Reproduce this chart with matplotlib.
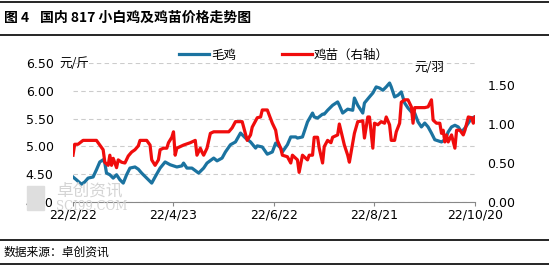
import matplotlib
matplotlib.use("Agg")
import matplotlib.pyplot as plt
from matplotlib.lines import Line2D
from matplotlib.patches import Rectangle
import pandas as pd

plt.rcParams['font.family'] = ['Noto Sans CJK SC', 'DejaVu Sans']

start = pd.Timestamp('2022-02-22')

# 毛鸡 (left axis, 元/斤) - days after 2022-02-22
blue_day = [0, 2, 5, 7, 9, 12, 14, 16, 18, 19,
            20, 22, 24, 26, 28, 30, 32, 34, 37, 39,
            41, 44, 47, 49, 52, 55, 58, 60, 62, 65,
            66, 68, 71, 75, 78, 80, 84, 86, 89, 91,
            94, 97, 100, 103, 106, 109, 110, 113, 116, 119,
            121, 124, 125, 128, 130, 133, 134, 137, 140, 143,
            144, 146, 149, 150, 152, 155, 158, 159, 161, 164,
            167, 168, 170, 173, 174, 177, 179, 181, 183, 185,
            187, 189, 190, 192, 194, 196, 198, 200, 202, 204,
            206, 208, 210, 212, 214, 216, 218, 220, 222, 224,
            226, 228, 230, 232, 234, 236, 238, 240]
blue_val = [4.45, 4.40, 4.32, 4.36, 4.43, 4.45, 4.58, 4.72, 4.76, 4.70,
            4.52, 4.49, 4.43, 4.49, 4.40, 4.34, 4.49, 4.61, 4.63, 4.59,
            4.52, 4.43, 4.34, 4.45, 4.61, 4.72, 4.67, 4.65, 4.63, 4.65,
            4.70, 4.61, 4.61, 4.52, 4.61, 4.70, 4.79, 4.74, 4.79, 4.90,
            5.03, 5.08, 5.24, 5.15, 5.08, 4.97, 5.01, 4.99, 4.86, 4.90,
            5.06, 4.97, 4.90, 5.03, 5.17, 5.17, 5.15, 5.17, 5.44, 5.60,
            5.53, 5.51, 5.58, 5.58, 5.65, 5.74, 5.80, 5.74, 5.60, 5.67,
            5.65, 5.87, 5.74, 5.60, 5.78, 5.89, 5.96, 6.07, 6.05, 6.01,
            6.07, 6.14, 6.07, 5.89, 5.92, 5.98, 5.78, 5.69, 5.62, 5.60,
            5.44, 5.35, 5.42, 5.35, 5.24, 5.12, 5.10, 5.08, 5.12, 5.26,
            5.35, 5.38, 5.35, 5.26, 5.33, 5.42, 5.51, 5.53]

# 鸡苗 (right axis, 元/羽)
red_day = [0, 1, 3, 6, 14, 16, 18, 19, 21, 22,
           23, 24, 26, 27, 29, 31, 33, 35, 37, 39,
           40, 44, 46, 47, 49, 51, 52, 54, 56, 57,
           59, 60, 61, 62, 66, 70, 73, 74, 76, 77,
           78, 80, 82, 84, 93, 95, 97, 101, 104, 106,
           107, 110, 112, 113, 116, 119, 121, 122, 124, 125,
           128, 130, 131, 134, 135, 137, 140, 141, 143, 144,
           146, 147, 149, 150, 152, 154, 155, 158, 159, 161,
           162, 164, 165, 167, 168, 170, 173, 174, 176, 177,
           179, 180, 182, 184, 186, 187, 189, 190, 192, 193,
           195, 196, 198, 200, 202, 203, 204, 210, 212, 214,
           215, 217, 219, 220, 221, 222, 223, 224, 226, 228,
           229, 231, 233, 234, 236, 238, 239, 240]
red_val = [0.60, 0.74, 0.74, 0.79, 0.79, 0.73, 0.67, 0.51, 0.47, 0.60,
           0.47, 0.56, 0.44, 0.54, 0.51, 0.50, 0.59, 0.64, 0.67, 0.72,
           0.79, 0.79, 0.73, 0.54, 0.47, 0.54, 0.67, 0.69, 0.69, 0.76,
           0.83, 0.90, 0.60, 0.69, 0.73, 0.76, 0.79, 0.60, 0.69, 0.64,
           0.60, 0.69, 0.88, 0.90, 0.90, 0.95, 1.03, 1.03, 0.79, 0.86,
           0.96, 1.08, 1.09, 1.18, 1.18, 1.01, 0.92, 0.79, 0.69, 0.60,
           0.58, 0.50, 0.60, 0.54, 0.38, 0.60, 0.54, 0.60, 0.60, 0.83,
           0.83, 0.69, 0.50, 0.71, 0.79, 0.76, 0.83, 0.86, 1.00, 0.82,
           0.73, 0.60, 0.51, 0.76, 0.88, 1.03, 1.04, 0.82, 1.09, 1.09,
           0.69, 1.01, 0.99, 1.03, 1.01, 1.09, 0.99, 0.79, 0.79, 0.90,
           1.01, 1.28, 1.31, 1.31, 1.22, 1.01, 1.21, 1.21, 1.22, 1.31,
           1.05, 1.01, 1.01, 0.88, 0.92, 0.77, 0.86, 0.77, 0.86, 0.69,
           0.92, 0.92, 0.86, 0.92, 1.09, 1.08, 1.01, 1.09]

x_ticks = ['2022-02-22', '2022-04-23', '2022-06-22', '2022-08-21', '2022-10-20']
x_labels = ['22/2/22', '22/4/23', '22/6/22', '22/8/21', '22/10/20']
left_ticks = [4.0, 4.5, 5.0, 5.5, 6.0, 6.5]
left_labels = ['4.00', '4.50', '5.00', '5.50', '6.00', '6.50']
right_ticks = [0.0, 0.5, 1.0, 1.5]
right_labels = ['0.00', '0.50', '1.00', '1.50']

BLUE = '#1b73a0'
RED = '#f00c0c'
W, H = 549, 270

fig = plt.figure(figsize=(W / 100, H / 100), dpi=100)
ax = fig.add_axes([73 / W, 1 - 202 / H, (475 - 73) / W, (202 - 63) / H])
ax2 = ax.twinx()

blue_dates = start + pd.to_timedelta(blue_day, unit='D')
red_dates = start + pd.to_timedelta(red_day, unit='D')

l1, = ax.plot(blue_dates, blue_val, color=BLUE, lw=2.3, solid_joinstyle='round')
l2, = ax2.plot(red_dates, red_val, color=RED, lw=2.3, solid_joinstyle='round')

ax.set_xlim(pd.Timestamp(x_ticks[0]), pd.Timestamp(x_ticks[-1]))
ax.set_ylim(4.0, 6.5)
ax2.set_ylim(0, 1.782)

ax.set_yticks(left_ticks)
ax.set_yticklabels(left_labels, fontsize=9, family='DejaVu Sans')
ax2.set_yticks(right_ticks)
ax2.set_yticklabels(right_labels, fontsize=9, family='DejaVu Sans')
ax.set_xticks(pd.to_datetime(x_ticks))
ax.set_xticklabels(x_labels, fontsize=9, family='DejaVu Sans')

ax.tick_params(axis='y', length=0, pad=14)
ax2.tick_params(axis='y', length=0, pad=9)
ax.tick_params(axis='x', length=3, color='#888888', pad=2)

ax.grid(axis='y', ls=(0, (4, 3)), color='#cccccc', lw=0.8)
for a in (ax, ax2):
    for s in ('top', 'right', 'left'):
        a.spines[s].set_visible(False)
ax2.spines['bottom'].set_visible(False)
ax.spines['bottom'].set_color('#888888')

# units
fig.text(59 / W, 1 - 63 / H, '元/斤', fontsize=9, va='center', ha='left')
fig.text(429 / W, 1 - 68 / H, '元/羽', fontsize=9, va='center', ha='center')

fig.legend([l1, l2], ['毛鸡', '鸡苗（右轴）'], loc='center', ncol=2,
           bbox_to_anchor=(284 / W, 1 - 55 / H), frameon=False, fontsize=9,
           handlelength=2.4, columnspacing=3.6, handletextpad=0.2)

# watermark
fig.patches.append(Rectangle((27 / W, 1 - 210 / H), 17 / W, 24 / H,
                             transform=fig.transFigure, color='#dedede', zorder=0))
fig.text(56 / W, 1 - 191 / H, '卓创资讯', fontsize=12, color='#d4d4d4', va='center', zorder=0)
fig.text(56 / W, 1 - 207 / H, 'SCI99.COM', fontsize=8.5, color='#d4d4d4', va='center',
         family='DejaVu Serif', zorder=0)

# title and source with rules
for yy in (2, 35, 240, 264):
    fig.add_artist(Line2D([0, 1], [1 - yy / H, 1 - yy / H], transform=fig.transFigure,
                          color='black', lw=1.2))
fig.text(4 / W, 1 - 18 / H, '图 4', fontsize=10, fontweight='bold', va='center')
fig.text(40 / W, 1 - 18 / H, '国内 817 小白鸡及鸡苗价格走势图', fontsize=10,
         fontweight='bold', va='center')
fig.text(4 / W, 1 - 252 / H, '数据来源：卓创资讯', fontsize=8.5, va='center')

fig.savefig('out.png', dpi=100)
